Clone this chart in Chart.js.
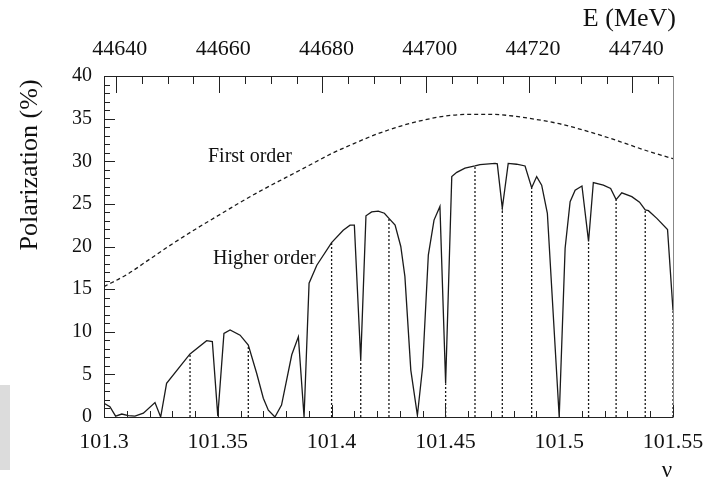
<!DOCTYPE html>
<html>
<head>
<meta charset="utf-8">
<script src="https://cdn.jsdelivr.net/npm/chart.js@4.4.1/dist/chart.umd.min.js"></script>
<style>
html,body{margin:0;padding:0;background:#fff;}
#wrap{position:relative;width:709px;height:485px;}
</style>
</head>
<body>
<div id="wrap"><canvas id="c" width="709" height="485"></canvas></div>
<script>
// ---- data ----
const nuHigher = [101.3, 101.3026, 101.3051, 101.3078, 101.3107, 101.3136, 101.3173, 101.3224, 101.3249, 101.3275,
  101.3378, 101.3451, 101.3476, 101.35, 101.3527, 101.3554, 101.3598, 101.3634, 101.3671, 101.37,
  101.3722, 101.3751, 101.378, 101.3825, 101.3854, 101.3879, 101.3901, 101.3935, 101.40, 101.4051,
  101.4081, 101.41, 101.4128, 101.4151, 101.4176, 101.4205, 101.4232, 101.4252, 101.4279, 101.4304,
  101.4322, 101.4348, 101.4377, 101.44, 101.4425, 101.445, 101.4476, 101.4501, 101.4528, 101.455,
  101.4586, 101.463, 101.4652, 101.4718, 101.4728, 101.475, 101.4776, 101.4813, 101.485, 101.4879,
  101.4901, 101.4923, 101.4948, 101.50, 101.5026, 101.5048, 101.507, 101.51, 101.5129, 101.515,
  101.5194, 101.5226, 101.525, 101.5275, 101.5319, 101.5353, 101.5378, 101.5392, 101.5429, 101.5476, 101.55];
const polHigher = [1.6, 1.2, 0.1, 0.35, 0.15, 0.1, 0.45, 1.7, 0, 3.95,
  7.4, 8.95, 8.85, 0.1, 9.8, 10.2, 9.6, 8.45, 5.1, 2.2,
  0.8, 0, 1.4, 7.3, 9.4, 0, 15.7, 17.8, 20.45, 21.9,
  22.5, 22.5, 6.7, 23.6, 24.05, 24.15, 23.9, 23.3, 22.5, 20.0,
  16.5, 5.5, 0.2, 5.9, 19.0, 23.1, 24.7, 3.95, 28.2, 28.7,
  29.2, 29.45, 29.6, 29.75, 29.7, 24.5, 29.75, 29.65, 29.45, 26.9,
  28.2, 27.2, 23.9, 0, 19.8, 25.25, 26.6, 27.1, 20.6, 27.5,
  27.2, 26.8, 25.5, 26.3, 25.85, 25.2, 24.3, 24.2, 23.3, 22.0, 12.5];

const nuFirst = [101.30, 101.31, 101.32, 101.33, 101.34, 101.35, 101.36, 101.37, 101.38, 101.39,
  101.40, 101.41, 101.42, 101.43, 101.44, 101.45, 101.46, 101.47, 101.48, 101.49,
  101.50, 101.51, 101.52, 101.53, 101.54, 101.55];
const polFirst = [15.3, 16.7, 18.5, 20.3, 22.0, 23.6, 25.2, 26.7, 28.1, 29.5,
  30.9, 32.1, 33.2, 34.1, 34.8, 35.3, 35.5, 35.5, 35.3, 34.9,
  34.4, 33.7, 32.9, 32.0, 31.1, 30.3];

// resonance positions (dotted lines from 0 up to the curve)
const nuRes  = [101.3378, 101.3634, 101.40, 101.4128, 101.4252, 101.4501, 101.463, 101.475, 101.4879, 101.5129, 101.525, 101.5378, 101.55];
const polRes = [7.4, 8.45, 20.45, 6.7, 23.3, 3.95, 29.45, 24.5, 26.9, 20.6, 25.5, 24.3, 12.5];

const xTicks = [101.3, 101.35, 101.4, 101.45, 101.5, 101.55];
const eTicks = [44640, 44660, 44680, 44700, 44720, 44740];
const yTicks = [0, 5, 10, 15, 20, 25, 30, 35, 40];
const MEV_PER_NU = 440.6486;

// ---- build datasets ----
const datasets = [];
datasets.push({
  label: 'Higher order',
  data: nuHigher.map((x, i) => ({x, y: polHigher[i]})),
  showLine: true, borderColor: '#1a1a1a', borderWidth: 1.3, pointRadius: 0, tension: 0
});
datasets.push({
  label: 'First order',
  data: nuFirst.map((x, i) => ({x, y: polFirst[i]})),
  showLine: true, borderColor: '#1a1a1a', borderWidth: 1.3, borderDash: [4, 3], pointRadius: 0,
  cubicInterpolationMode: 'monotone'
});
nuRes.forEach((x, i) => {
  datasets.push({
    label: 'res' + i,
    data: [{x, y: 0}, {x, y: polRes[i]}],
    showLine: true, borderColor: '#1a1a1a', borderWidth: 1.3, borderDash: [2, 2], pointRadius: 0, tension: 0
  });
});

const serif = "'Liberation Serif', 'DejaVu Serif', serif";

const framePlugin = {
  id: 'frame',
  beforeDraw(chart) {
    const ctx = chart.ctx;
    ctx.save();
    ctx.fillStyle = '#dcdcdc';
    ctx.fillRect(0, 385, 10, 85);
    ctx.restore();
  },
  afterDatasetsDraw(chart) {
    const {ctx, chartArea: a, scales} = chart;
    const sx = scales.x, sy = scales.y, se = scales.x2;
    ctx.save();
    ctx.strokeStyle = '#222';
    ctx.lineWidth = 1;
    ctx.beginPath();
    ctx.moveTo(a.left + 0.5, a.bottom + 0.5); ctx.lineTo(a.left + 0.5, a.top + 0.5);
    ctx.lineTo(a.right + 0.5, a.top + 0.5);
    ctx.moveTo(a.left + 0.5, a.bottom + 0.5); ctx.lineTo(a.right + 0.5, a.bottom + 0.5);
    ctx.stroke();
    ctx.strokeStyle = '#888';
    ctx.beginPath();
    ctx.moveTo(a.right + 0.5, a.top + 0.5); ctx.lineTo(a.right + 0.5, a.bottom + 0.5);
    ctx.stroke();
    ctx.strokeStyle = '#222';
    ctx.beginPath();
    // bottom ticks (inward)
    for (let k = 0; k <= 25; k++) {
      const v = 101.3 + k * 0.01;
      const px = Math.round(sx.getPixelForValue(v)) + 0.5;
      const len = (k % 5 === 0) ? 12 : 6;
      ctx.moveTo(px, a.bottom); ctx.lineTo(px, a.bottom - len);
    }
    // left ticks
    for (let k = 0; k <= 40; k++) {
      const py = Math.round(sy.getPixelForValue(k)) + 0.5;
      const len = (k % 5 === 0) ? 11 : 6;
      ctx.moveTo(a.left, py); ctx.lineTo(a.left + len, py);
    }
    // top ticks (energy)
    for (let e = 44640; e <= se.max; e += 5) {
      const px = Math.round(se.getPixelForValue(e)) + 0.5;
      const len = (e % 20 === 0) ? 17 : 8;
      ctx.moveTo(px, a.top); ctx.lineTo(px, a.top + len);
    }
    ctx.stroke();
    ctx.restore();
  },
  afterDraw(chart) {
    const ctx = chart.ctx;
    ctx.save();
    ctx.fillStyle = '#111';
    ctx.font = "20px " + serif;
    ctx.textBaseline = 'alphabetic';
    ctx.textAlign = 'left';
    ctx.fillText('First order', 208, 162);
    ctx.fillText('Higher order', 213, 264);
    ctx.font = "26px " + serif;
    ctx.textAlign = 'right';
    ctx.fillText('E (MeV)', 676, 26);
    ctx.textAlign = 'center';
    ctx.font = "23px " + serif;
    ctx.fillText('\u03BD', 667, 477);
    ctx.translate(37, 165);
    ctx.rotate(-Math.PI / 2);
    ctx.textAlign = 'center';
    ctx.font = "26px " + serif;
    ctx.fillText('Polarization (%)', 0, 0);
    ctx.restore();
  }
};

const xFont = {family: serif, size: 22};
const yFont = {family: serif, size: 20};

new Chart(document.getElementById('c'), {
  type: 'scatter',
  data: {datasets},
  options: {
    responsive: false,
    animation: false,
    layout: {padding: {left: 0, right: 36, top: 0, bottom: 0}},
    plugins: {legend: {display: false}, tooltip: {enabled: false}},
    scales: {
      x: {
        type: 'linear', position: 'bottom', min: 101.3, max: 101.55,
        grid: {display: false}, border: {display: false},
        afterFit: s => { s.height = 68; },
        afterBuildTicks: s => { s.ticks = xTicks.map(v => ({value: v})); },
        ticks: {font: xFont, color: '#111', padding: 4, maxRotation: 0, autoSkip: false,
          callback: v => String(+v.toFixed(2))}
      },
      x2: {
        type: 'linear', position: 'top',
        min: 101.3 * MEV_PER_NU, max: 101.55 * MEV_PER_NU,
        grid: {display: false}, border: {display: false},
        afterFit: s => { s.height = 76; },
        afterBuildTicks: s => { s.ticks = eTicks.map(v => ({value: v})); },
        ticks: {font: xFont, color: '#111', padding: 6, labelOffset: 4, maxRotation: 0, autoSkip: false,
          callback: v => String(v)}
      },
      y: {
        type: 'linear', position: 'left', min: 0, max: 40,
        grid: {display: false}, border: {display: false},
        afterFit: s => { s.width = 104; },
        afterBuildTicks: s => { s.ticks = yTicks.map(v => ({value: v})); },
        ticks: {font: yFont, color: '#111', padding: 4, autoSkip: false,
          callback: v => String(v)}
      }
    }
  },
  plugins: [framePlugin]
});
</script>
</body>
</html>
